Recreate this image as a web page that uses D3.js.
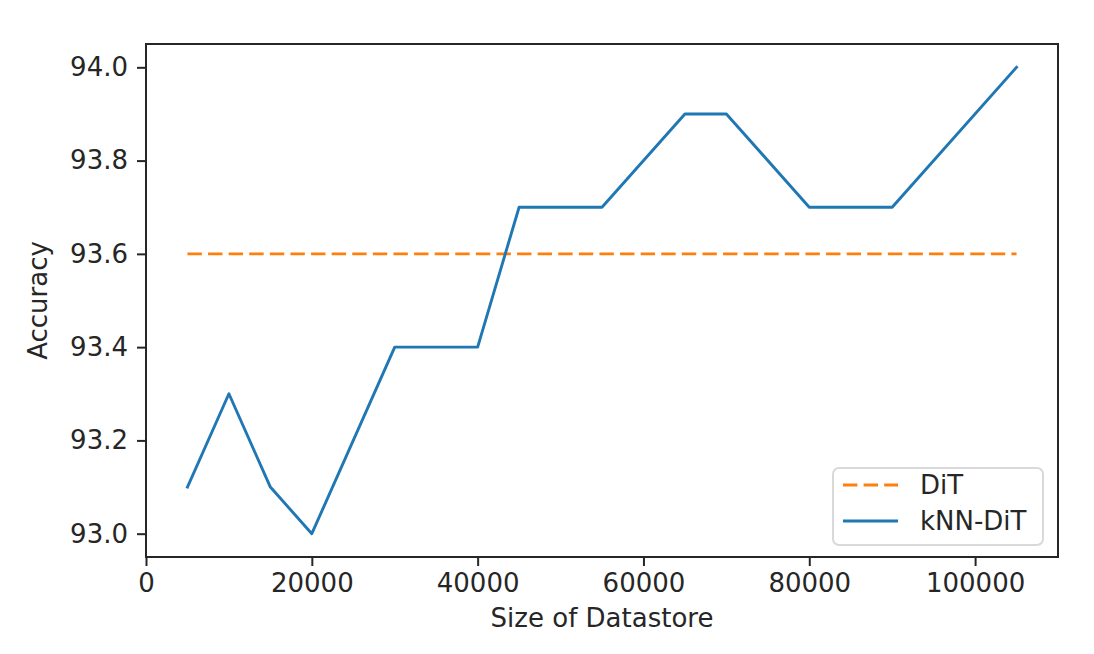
<!DOCTYPE html>
<html><head><meta charset="utf-8">
<script src="https://cdn.jsdelivr.net/npm/d3@7"></script>
<style>body{margin:0;background:#fff}svg{display:block}text{font-family:"DejaVu Sans";fill:#262626}</style>
</head><body>
<svg id="c" width="1094" height="654"></svg>
<script>
const knnX = [5000, 10000, 15000, 20000, 30000, 40000, 45000, 55000, 65000, 70000, 80000, 90000, 105000];
const knnY = [93.1, 93.3, 93.1, 93.0, 93.4, 93.4, 93.7, 93.7, 93.9, 93.9, 93.7, 93.7, 94.0];
const ditX = [5000, 105000];
const ditY = [93.6, 93.6];
const xTicks = [0, 20000, 40000, 60000, 80000, 100000];
const yTicks = [93.0, 93.2, 93.4, 93.6, 93.8, 94.0];
const seriesNames = ["DiT", "kNN-DiT"];
const colors = ["#ff7f0e", "#1f77b4"];

const svg = d3.select("#c");
const L = 146, R = 1058, T = 44, B = 557;
const x = d3.scaleLinear().domain([0, 110000]).range([L, R]);
const y = d3.scaleLinear().domain([92.95, 94.05]).range([B, T]);
const fs = 26;

const line = d3.line().x(d => x(d[0])).y(d => y(d[1]));
svg.append("path").datum(d3.zip(ditX, ditY)).attr("d", line)
  .attr("fill", "none").attr("stroke", colors[0]).attr("stroke-width", 2.9)
  .attr("stroke-dasharray", "14.4,6.2");
svg.append("path").datum(d3.zip(knnX, knnY)).attr("d", line)
  .attr("fill", "none").attr("stroke", colors[1]).attr("stroke-width", 2.9)
  .attr("stroke-linejoin", "round").attr("stroke-linecap", "square");

const xa = svg.append("g").attr("transform", `translate(0,${B})`)
  .call(d3.axisBottom(x).tickValues(xTicks).tickFormat(d3.format("d")).tickSize(9).tickPadding(6));
const ya = svg.append("g").attr("transform", `translate(${L},0)`)
  .call(d3.axisLeft(y).tickValues(yTicks).tickFormat(d3.format(".1f")).tickSize(9).tickPadding(9));
[xa, ya].forEach(a => {
  a.select(".domain").remove();
  a.selectAll("line").attr("stroke", "#262626").attr("stroke-width", 2);
  a.selectAll("text").style("font-size", fs + "px").attr("fill", "#262626").style("font-family", "DejaVu Sans");
});
xa.selectAll("text").attr("dy", "0.76em");

svg.append("rect").attr("x", L).attr("y", T).attr("width", R - L).attr("height", B - T)
  .attr("fill", "none").attr("stroke", "#262626").attr("stroke-width", 2);

svg.append("text").attr("x", (L + R) / 2).attr("y", 627).attr("text-anchor", "middle")
  .style("font-size", fs + "px").text("Size of Datastore");
svg.append("text").attr("transform", `translate(47,${(T + B) / 2}) rotate(-90)`).attr("text-anchor", "middle")
  .style("font-size", fs + "px").text("Accuracy");

const lg = svg.append("g");
lg.append("rect").attr("x", 833).attr("y", 468).attr("width", 210).attr("height", 77).attr("rx", 6)
  .attr("fill", "#fff").attr("fill-opacity", 0.8).attr("stroke", "#d9d9d9").attr("stroke-width", 2);
seriesNames.forEach((n, i) => {
  const yy = 485 + i * 36;
  lg.append("line").attr("x1", 843).attr("x2", 898).attr("y1", yy).attr("y2", yy)
    .attr("stroke", colors[i]).attr("stroke-width", 2.9)
    .attr("stroke-dasharray", i === 0 ? "14.4,6.2" : null);
  lg.append("text").attr("x", 920).attr("y", yy).attr("dy", "0.36em").style("font-size", fs + "px").text(n);
});
</script>
</body></html>
